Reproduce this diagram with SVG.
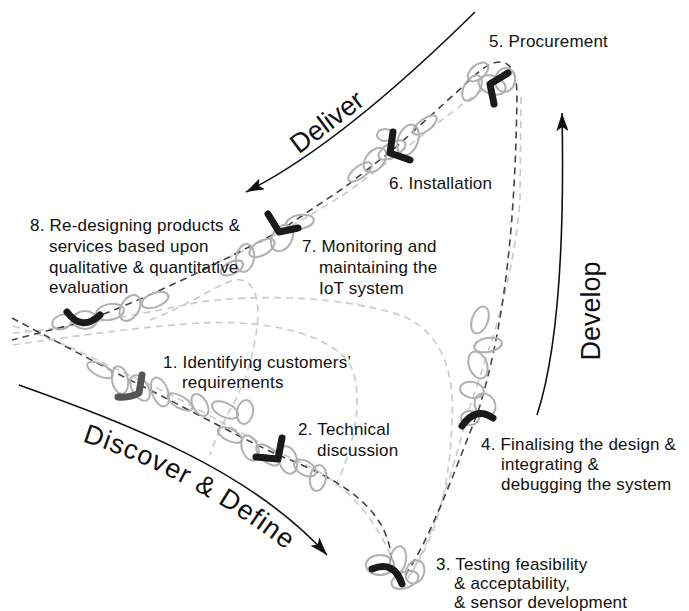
<svg xmlns="http://www.w3.org/2000/svg" width="689" height="611" viewBox="0 0 689 611">
<defs>
<marker id="ah" markerUnits="userSpaceOnUse" markerWidth="20" markerHeight="12" refX="18" refY="6" orient="auto">
<path d="M0,0 L18,6 L0,12 L4,6 z" fill="#111"/>
</marker>
<style>
.lbl{font-family:"Liberation Sans","DejaVu Sans",sans-serif;font-size:17px;letter-spacing:0.2px;fill:#111}
.phase{font-family:"Liberation Sans","DejaVu Sans",sans-serif;font-size:27px;fill:#111}
.arc{fill:none;stroke:#111;stroke-width:1.6}
.dk{fill:none;stroke:#444;stroke-width:1.6;stroke-dasharray:7 5}
.lt{fill:none;stroke:#c9c9c9;stroke-width:1.6;stroke-dasharray:7 5}
.scr ellipse{fill:none;stroke:#b0b0b0;stroke-width:2}
.boom{fill:none;stroke:#1a1a1a;stroke-width:7;stroke-linecap:round;stroke-linejoin:round}
</style>
</defs>
<rect width="689" height="611" fill="#fff"/>

<g id="connectors">
<path class="lt" d="M13,333 C60,330 150,312 200,302 C260,294 340,296 400,315 C440,330 455,370 452,420 C450,480 440,530 410,575"/>
<path class="lt" d="M13,345 C80,335 150,326 200,323 C260,320 320,330 347,360 C362,380 358,420 350,447 C344,470 338,480 336,486"/>
<path class="lt" d="M150,320 C190,305 215,285 235,280 C250,278 258,290 258,315 C256,350 245,385 230,410 C222,425 215,440 210,455"/>
<path class="lt" d="M13,326 C60,340 100,362 140,380 C200,408 250,440 300,462 C345,482 380,520 398,575"/>
<path class="lt" d="M408,578 C430,545 450,480 466,420 C480,370 512,300 520,200 L521,97"/>
<path class="lt" d="M482,90 C440,120 380,170 340,197 C300,222 260,245 200,270"/>
<path class="dk" d="M12,318 C50,338 100,365 140,385 C190,410 235,435 278,455 C335,478 392,505 392,568"/>
<path class="dk" d="M405,575 C430,540 455,470 478,412 C500,340 515,250 517,95 C517,72 510,62 500,62 C490,62 480,70 470,80 L395,148 L345,187 L278,232 C220,262 150,298 82,322 L12,340"/>
</g>

<g id="phase-deliver">
<path class="arc" d="M475,12 Q340,145 246,192" marker-end="url(#ah)"/>
<text class="phase" transform="translate(327,122) rotate(-37)" text-anchor="middle" y="9">Deliver</text>
</g>
<g id="phase-develop">
<path class="arc" d="M537,415 C555,360 565,260 562,113" marker-end="url(#ah)"/>
<text class="phase" transform="translate(600,311) rotate(-90)" text-anchor="middle">Develop</text>
</g>
<g id="phase-discover">
<path class="arc" d="M19,385 C130,425 250,470 327,555" marker-end="url(#ah)"/>
<path id="dtp" d="M78,440 Q190,475 290,553" fill="none"/>
<text class="phase" letter-spacing="1"><textPath href="#dtp" startOffset="50%" text-anchor="middle">Discover &amp; Define</textPath></text>
</g>

<g id="n1">
<g class="scr">
<ellipse cx="100" cy="370" rx="14" ry="6" transform="rotate(27 100 370)"/>
<ellipse cx="120" cy="380" rx="8" ry="14" transform="rotate(-10 120 380)"/>
<ellipse cx="140" cy="388" rx="14" ry="8" transform="rotate(60 140 388)"/>
<ellipse cx="160" cy="392" rx="8" ry="15" transform="rotate(-20 160 392)"/>
<ellipse cx="180" cy="402" rx="14" ry="6" transform="rotate(30 180 402)"/>
<ellipse cx="200" cy="405" rx="7" ry="12" transform="rotate(-30 200 405)"/>
<ellipse cx="225" cy="410" rx="14" ry="7" transform="rotate(25 225 410)"/>
<ellipse cx="245" cy="412" rx="8" ry="12" transform="rotate(10 245 412)"/>
</g>
<path class="boom" style="stroke:#555" d="M142,375 L139,393 Q130,398 118,397"/>
<text class="lbl" x="163" y="368">1. Identifying customers’<tspan x="182" y="388">requirements</tspan></text>
</g>

<g id="n2">
<g class="scr">
<ellipse cx="230" cy="435" rx="13" ry="6" transform="rotate(25 230 435)"/>
<ellipse cx="250" cy="448" rx="8" ry="13" transform="rotate(-20 250 448)"/>
<ellipse cx="268" cy="455" rx="14" ry="7" transform="rotate(40 268 455)"/>
<ellipse cx="288" cy="460" rx="9" ry="14" transform="rotate(-15 288 460)"/>
<ellipse cx="305" cy="468" rx="12" ry="7" transform="rotate(30 305 468)"/>
<ellipse cx="318" cy="478" rx="8" ry="13" transform="rotate(10 318 478)"/>
</g>
<path class="boom" d="M282,438 L278,459 L256,457"/>
<text class="lbl" x="298" y="435">2. Technical<tspan x="317" y="456">discussion</tspan></text>
</g>

<g id="n3">
<g class="scr">
<ellipse cx="380" cy="565" rx="14" ry="10"/>
<ellipse cx="398" cy="560" rx="8" ry="14" transform="rotate(10 398 560)"/>
<ellipse cx="405" cy="580" rx="14" ry="8" transform="rotate(-20 405 580)"/>
<ellipse cx="415" cy="572" rx="9" ry="12" transform="rotate(20 415 572)"/>
</g>
<path class="boom" d="M372,569 Q394,560 402,584"/>
<text class="lbl" x="436" y="570">3. Testing feasibility<tspan x="454" y="589">&amp; acceptability,</tspan><tspan x="454" y="608">&amp; sensor development</tspan></text>
</g>

<g id="n4">
<g class="scr">
<ellipse cx="480" cy="320" rx="8" ry="14" transform="rotate(20 480 320)"/>
<ellipse cx="488" cy="345" rx="14" ry="7" transform="rotate(-10 488 345)"/>
<ellipse cx="478" cy="365" rx="9" ry="14" transform="rotate(-20 478 365)"/>
<ellipse cx="472" cy="390" rx="12" ry="8" transform="rotate(10 472 390)"/>
<ellipse cx="485" cy="405" rx="10" ry="12" transform="rotate(-30 485 405)"/>
<ellipse cx="470" cy="418" rx="9" ry="7"/>
</g>
<path class="boom" d="M462,426 Q476,406 493,418"/>
<text class="lbl" x="481" y="450">4. Finalising the design &amp;<tspan x="501" y="470">integrating &amp;</tspan><tspan x="501" y="490">debugging the system</tspan></text>
</g>

<g id="n5">
<g class="scr">
<ellipse cx="478" cy="72" rx="12" ry="7" transform="rotate(-40 478 72)"/>
<ellipse cx="492" cy="85" rx="14" ry="9" transform="rotate(20 492 85)"/>
<ellipse cx="505" cy="80" rx="10" ry="12" transform="rotate(10 505 80)"/>
<ellipse cx="472" cy="88" rx="8" ry="14" transform="rotate(30 472 88)"/>
</g>
<path class="boom" d="M508,73 L490,84 L494,104"/>
<text class="lbl" x="489" y="47">5. Procurement</text>
</g>

<g id="n6">
<g class="scr">
<ellipse cx="425" cy="125" rx="14" ry="6" transform="rotate(-37 425 125)"/>
<ellipse cx="408" cy="140" rx="10" ry="16" transform="rotate(20 408 140)"/>
<ellipse cx="392" cy="150" rx="15" ry="7" transform="rotate(-30 392 150)"/>
<ellipse cx="375" cy="160" rx="9" ry="14" transform="rotate(40 375 160)"/>
<ellipse cx="360" cy="172" rx="14" ry="6" transform="rotate(-37 360 172)"/>
<ellipse cx="385" cy="135" rx="8" ry="6"/>
</g>
<path class="boom" d="M393,132 L390,153 L410,160"/>
<text class="lbl" x="389" y="189">6. Installation</text>
</g>

<g id="n7">
<g class="scr">
<ellipse cx="300" cy="222" rx="14" ry="7" transform="rotate(-10 300 222)"/>
<ellipse cx="282" cy="238" rx="10" ry="14" transform="rotate(30 282 238)"/>
<ellipse cx="262" cy="248" rx="14" ry="7" transform="rotate(-30 262 248)"/>
<ellipse cx="245" cy="258" rx="9" ry="14" transform="rotate(10 245 258)"/>
<ellipse cx="232" cy="268" rx="12" ry="6" transform="rotate(-25 232 268)"/>
</g>
<path class="boom" d="M268,214 L279,232 L298,228"/>
<text class="lbl" x="302" y="252">7. Monitoring and<tspan x="319" y="273">maintaining the</tspan><tspan x="319" y="294">IoT system</tspan></text>
</g>

<g id="n8">
<g class="scr">
<ellipse cx="155" cy="300" rx="14" ry="7" transform="rotate(-20 155 300)"/>
<ellipse cx="130" cy="308" rx="9" ry="14" transform="rotate(30 130 308)"/>
<ellipse cx="110" cy="312" rx="14" ry="8" transform="rotate(-10 110 312)"/>
<ellipse cx="85" cy="320" rx="12" ry="9"/>
<ellipse cx="62" cy="322" rx="10" ry="7" transform="rotate(-20 62 322)"/>
</g>
<path class="boom" d="M67,312 Q82,332 100,315"/>
<text class="lbl" x="30" y="231">8. Re-designing products &amp;<tspan x="49" y="252">services based upon</tspan><tspan x="49" y="273">qualitative &amp; quantitative</tspan><tspan x="49" y="293">evaluation</tspan></text>
</g>
</svg>
